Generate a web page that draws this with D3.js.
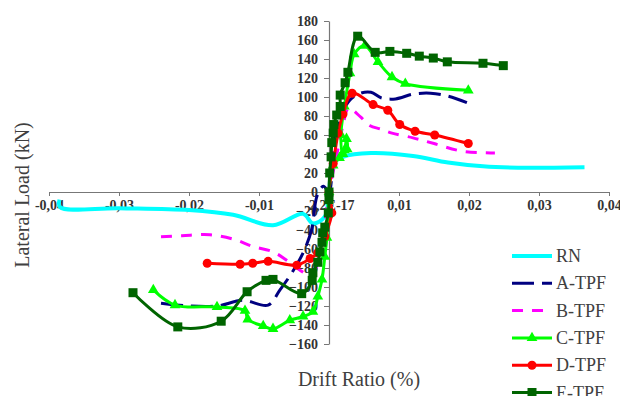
<!DOCTYPE html>
<html>
<head>
<meta charset="utf-8">
<script src="https://cdn.jsdelivr.net/npm/d3@7"></script>
<style>
  html, body { margin: 0; padding: 0; background: #fff; }
  svg { display: block; }
</style>
</head>
<body>
<svg id="chart" width="620" height="396"></svg>
<script>
// Hysteresis envelopes: [drift ratio, lateral load kN], ordered from the negative end to the positive end
const RN = [[-0.0385,-8],[-0.0384,-16],[-0.030,-17],[-0.020,-19],[-0.0137,-24],[-0.008,-35],[-0.0037,-23],[-0.0023,-33],[-0.0006,-26],[0,0],[0.0006,30],[0.002,37],[0.006,41],[0.012,38],[0.017,31],[0.022,27],[0.027,25.5],[0.0365,26]];
const A_TPF = [[-0.024,-117],[-0.020,-120],[-0.016,-120],[-0.0123,-114],[-0.0087,-119],[-0.007,-103],[-0.0053,-85],[-0.0037,-64],[-0.0025,-40],[-0.0017,-4],[-0.0008,6],[0,0],[0.0005,30],[0.001,60],[0.002,85],[0.003,97],[0.0045,104],[0.006,105],[0.0075,99],[0.0095,98],[0.012,103],[0.0145,104],[0.017,101],[0.0197,94]];
const B_TPF = [[-0.024,-47],[-0.021,-46],[-0.017,-45],[-0.0135,-50],[-0.011,-57],[-0.008,-63],[-0.006,-72],[-0.004,-83],[-0.0025,-88],[-0.0012,-60],[0,0],[0.001,35],[0.002,70],[0.0028,88],[0.0045,79],[0.0058,70],[0.0075,66],[0.009,62],[0.012,57],[0.015,51],[0.019,43],[0.0237,41]];
const C_TPF = [[-0.0251,-103],[-0.0220,-119],[-0.0160,-121],[-0.0120,-125],[-0.0116,-134],[-0.0094,-141],[-0.0080,-144],[-0.0056,-135],[-0.0037,-131],[-0.0023,-126],[-0.0016,-110],[-0.0010,-92],[-0.0006,-68],[-0.0003,-48],[0,0],[0.0006,28],[0.0015,36],[0.0022,44],[0.0025,56],[0.0026,45],[0.0020,40],[0.0017,60],[0.0022,90],[0.0030,125],[0.0036,145],[0.0051,154],[0.0070,137],[0.0090,121],[0.0109,114],[0.0199,107]];
const D_TPF = [[-0.0174,-75],[-0.0127,-76],[-0.0109,-75],[-0.0087,-73],[-0.0046,-77],[-0.0027,-70],[-0.0016,-64],[-0.0006,-47],[0.0004,-22],[0,0],[0.0006,30],[0.0013,62],[0.002,82],[0.0033,104],[0.0063,92],[0.0084,86],[0.0101,71],[0.0123,64],[0.0151,60],[0.0199,51]];
const E_TPF = [[-0.0280,-106],[-0.0216,-142],[-0.0154,-136],[-0.0117,-105],[-0.0090,-93],[-0.0080,-92],[-0.0039,-107],[-0.0024,-93],[-0.0023,-85],[-0.0016,-74],[-0.0013,-63],[-0.0010,-53],[-0.0009,-43],[-0.0006,-37],[-0.0001,-22],[0,-8],[0,0],[0.0001,20],[0.0003,37],[0.0004,52],[0.0006,62],[0.0007,71],[0.0011,81],[0.0016,90],[0.0016,102],[0.0023,115],[0.0027,126],[0.0041,164],[0.0066,147],[0.0087,148],[0.0111,146],[0.0129,143],[0.0149,141],[0.0169,137],[0.0220,135.5],[0.0249,133]];

const seriesNames = ["RN","A-TPF","B-TPF","C-TPF","D-TPF","E-TPF"];
const seriesData = [RN, A_TPF, B_TPF, C_TPF, D_TPF, E_TPF];

const xTickValues = [-0.04,-0.03,-0.02,-0.01,0,0.01,0.02,0.03,0.04];
const xTickLabels = ["-0,04","-0,03","-0,02","-0,01","-2,2E-17","0,01","0,02","0,03","0,04"];
const yTickValues = [-160,-140,-120,-100,-80,-60,-40,-20,0,20,40,60,80,100,120,140,160,180];

// Line styling per series
const styles = [
  { color: "#00ffff", width: 4,   dash: null,   marker: null },
  { color: "#000080", width: 3,   dash: "22,8", marker: null },
  { color: "#ff00ff", width: 3,   dash: "11,9", marker: null },
  { color: "#00ff00", width: 3,   dash: null,   marker: "triangle" },
  { color: "#ff0000", width: 3,   dash: null,   marker: "circle" },
  { color: "#006400", width: 3,   dash: null,   marker: "square" }
];

const svg = d3.select("#chart");
const x = d3.scaleLinear().domain([-0.04, 0.04]).range([49, 609]);
const y = d3.scaleLinear().domain([-160, 180]).range([344, 21]);

const serif = "'Liberation Serif', 'Times New Roman', serif";

// Horizontal axis through zero load
const xAxis = d3.axisBottom(x)
  .tickValues(xTickValues)
  .tickFormat((d, i) => xTickLabels[i])
  .tickSizeOuter(0).tickSizeInner(4).tickPadding(4);
const gx = svg.append("g").attr("transform", `translate(0,${y(0)})`).call(xAxis);
gx.select(".domain").attr("stroke", "#777").attr("stroke-width", 1.2);
gx.selectAll(".tick line").attr("stroke", "#777");
gx.selectAll("text").attr("font-family", serif).attr("font-size", 14)
  .attr("font-weight", "bold").attr("fill", "#333");

// Vertical axis through zero drift
const yAxis = d3.axisLeft(y).tickValues(yTickValues).tickFormat(d3.format("d"))
  .tickSizeOuter(0).tickSizeInner(5).tickPadding(6);
const gy = svg.append("g").attr("transform", `translate(${x(0)},0)`).call(yAxis);
gy.select(".domain").attr("stroke", "#777").attr("stroke-width", 1.2);
gy.selectAll(".tick line").attr("stroke", "#777");
gy.selectAll("text").attr("font-family", serif).attr("font-size", 14)
  .attr("font-weight", "bold").attr("fill", "#333");

// Smoothed curves
const line = d3.line().x(d => x(d[0])).y(d => y(d[1])).curve(d3.curveCatmullRom.alpha(0.5));

function drawMarker(g, type, cx, cy, color) {
  if (type === "circle") {
    g.append("circle").attr("cx", cx).attr("cy", cy).attr("r", 4.5).attr("fill", color);
  } else if (type === "square") {
    g.append("rect").attr("x", cx - 4.5).attr("y", cy - 4.5).attr("width", 9).attr("height", 9).attr("fill", color);
  } else if (type === "triangle") {
    g.append("path").attr("d", d3.symbol().type(d3.symbolTriangle).size(50)()).attr("transform", `translate(${cx},${cy})`).attr("fill", color);
  }
}

const plot = svg.append("g");
seriesData.forEach((data, i) => {
  const s = styles[i];
  plot.append("path").datum(data).attr("d", line)
    .attr("fill", "none").attr("stroke", s.color).attr("stroke-width", s.width)
    .attr("stroke-dasharray", s.dash).attr("stroke-linejoin", "round");
  if (s.marker) {
    const mg = plot.append("g");
    data.forEach(d => drawMarker(mg, s.marker, x(d[0]), y(d[1]), s.color));
  }
});

// Axis titles
svg.append("text").attr("transform", "translate(24,195) rotate(-90)")
  .attr("text-anchor", "middle").attr("dominant-baseline", "middle")
  .attr("font-family", serif).attr("font-size", 20).attr("fill", "#404040")
  .text("Lateral Load (kN)");
svg.append("text").attr("x", 359).attr("y", 386).attr("text-anchor", "middle")
  .attr("font-family", serif).attr("font-size", 20).attr("fill", "#404040")
  .text("Drift Ratio (%)");

// Legend
const legend = svg.append("g");
seriesNames.forEach((name, i) => {
  const s = styles[i];
  const ry = 256 + i * 27.3;
  legend.append("line").attr("x1", 512).attr("x2", 552).attr("y1", ry).attr("y2", ry)
    .attr("stroke", s.color).attr("stroke-width", s.width).attr("stroke-dasharray", s.dash);
  if (s.marker) drawMarker(legend, s.marker, 532, ry, s.color);
  legend.append("text").attr("x", 556).attr("y", ry + 6)
    .attr("font-family", serif).attr("font-size", 18).attr("fill", "#404040").text(name);
});
</script>
</body>
</html>
